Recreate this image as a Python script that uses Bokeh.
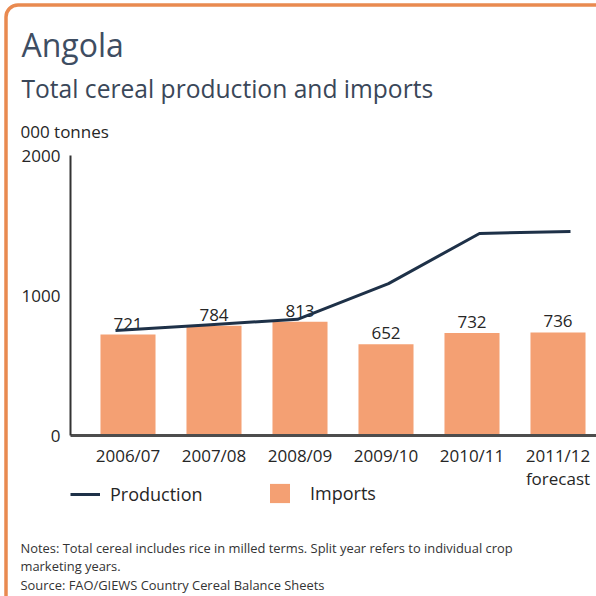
from bokeh.plotting import figure
from bokeh.models import Range1d, FixedTicker, Label, Legend, LegendItem, BoxAnnotation
from bokeh.embed import file_html
from bokeh.resources import INLINE
from bokeh.core.properties import value

# ---- data ----
years = ["2006/07", "2007/08", "2008/09", "2009/10", "2010/11", "2011/12"]
year_notes = ["", "", "", "", "", "forecast"]
imports = [721, 784, 813, 652, 732, 736]
production = [750, 790, 830, 1085, 1443, 1457]
y_ticks = [0, 1000, 2000]

title = "Angola"
subtitle = "Total cereal production and imports"
unit = "000 tonnes"
notes = ["Notes: Total cereal includes rice in milled terms. Split year refers to individual crop",
         "marketing years.",
         "Source: FAO/GIEWS Country Cereal Balance Sheets"]

FONT = "Open Sans"
W = H = 596
BAR = "#F4A073"
LINE = "#1E3148"
TXT = "#262626"
ORANGE = "#E98A50"

# ---- layout constants (page pixels) ----
AX_L, AX_B, AX_T, AX_R = 70, 435, 155, 596     # axis corner / extents
CAT0, CAT_STEP = 127.5, 86.0                   # first bar centre, bar spacing
LIN0, LIN_STEP = 115.0, 91.0                   # production line x layout
PX_PER_UNIT = (AX_B - AX_T) / y_ticks[-1]

idx = list(range(len(years)))
x_lo, x_hi = (0 - CAT0) / CAT_STEP, (W - CAT0) / CAT_STEP
y_lo, y_hi = (AX_B - H) / PX_PER_UNIT, AX_B / PX_PER_UNIT
x_axis_left = (AX_L - CAT0) / CAT_STEP

p = figure(width=W, height=H, output_backend="svg", toolbar_location=None,
           x_range=Range1d(x_lo, x_hi), y_range=Range1d(y_lo, y_hi),
           min_border=0)
p.extra_x_ranges = {"prod": Range1d((0 - LIN0) / LIN_STEP, (W - LIN0) / LIN_STEP)}
p.outline_line_color = None
p.xgrid.visible = False
p.ygrid.visible = False
p.background_fill_color = "white"
p.border_fill_color = "white"

# orange frame (top and left edges, rounded corner)
p.add_layout(BoxAnnotation(left=5.5, right=W + 20, top=H - 4.5, bottom=-20,
                           left_units="screen", right_units="screen",
                           top_units="screen", bottom_units="screen",
                           fill_alpha=0, line_color=ORANGE, line_alpha=1.0,
                           line_width=3.5, border_radius=12))

bars = p.vbar(x=idx, top=imports, width=0.64, fill_color=BAR, line_color=None)
p.text(x=idx, y=imports, text=[str(v) for v in imports], text_align="center",
       text_baseline="bottom", y_offset=-5, text_font=value(FONT),
       text_font_size="17px", text_color=TXT)
prod = p.line(idx, production, x_range_name="prod", line_width=3, line_color=LINE)

xa = p.xaxis[0]
xa.fixed_location = 0
xa.bounds = (x_axis_left, x_hi)
xa.ticker = FixedTicker(ticks=idx)
xa.major_label_overrides = {i: (years[i] + ("\n" + year_notes[i] if year_notes[i] else ""))
                            for i in idx}
xa.axis_line_width = 3
xa.axis_line_color = "#4d4d4d"
xa.major_tick_line_color = None
xa.minor_tick_line_color = None
xa.major_tick_out = 0
xa.major_tick_in = 0
xa.major_label_standoff = 8
xa.major_label_text_font = FONT
xa.major_label_text_font_size = "17px"
xa.major_label_text_line_height = 1.0
xa.major_label_text_color = TXT

ya = p.yaxis[0]
ya.fixed_location = x_axis_left
ya.bounds = (y_ticks[0], y_ticks[-1])
ya.ticker = FixedTicker(ticks=y_ticks)
ya.axis_line_width = 2
ya.axis_line_color = "#333333"
ya.major_tick_line_color = None
ya.minor_tick_line_color = None
ya.major_tick_out = 0
ya.major_tick_in = 0
ya.major_label_standoff = 10
ya.major_label_text_font = FONT
ya.major_label_text_font_size = "17px"
ya.major_label_text_color = TXT

leg1 = Legend(items=[LegendItem(label="Production", renderers=[prod])],
              location=(70, H - 506), glyph_width=30, glyph_height=24,
              label_standoff=10, padding=0, margin=0, border_line_color=None,
              background_fill_alpha=0, label_text_font=FONT,
              label_text_font_size="18px", label_text_color=TXT)
leg2 = Legend(items=[LegendItem(label="Imports", renderers=[bars])],
              location=(267, H - 504.5), glyph_width=25, glyph_height=24,
              label_standoff=18, padding=0, margin=0, border_line_color=None,
              background_fill_alpha=0, label_text_font=FONT,
              label_text_font_size="18px", label_text_color=TXT)
p.add_layout(leg1)
p.add_layout(leg2)


def page_label(text, x, y_mid, size, color):
    # x, y_mid in page pixels (top-left origin); screen units run from the bottom-left
    p.add_layout(Label(x=x, y=H - y_mid, x_units="screen", y_units="screen",
                       text=text, text_font=FONT, text_font_size=size,
                       text_color=color, text_baseline="alphabetic"))


page_label(title, 21, 44, "32px", "#3E4D62")
page_label(subtitle, 21, 88, "24.6px", "#3A4759")
page_label(unit, 20, 131, "17px", TXT)
page_label(notes[0], 20, 547, "12.9px", "#333333")
page_label(notes[1], 20, 565, "12.9px", "#333333")
page_label(notes[2], 20, 584, "12.9px", "#333333")

open("out.html", "w").write(file_html(p, INLINE))
